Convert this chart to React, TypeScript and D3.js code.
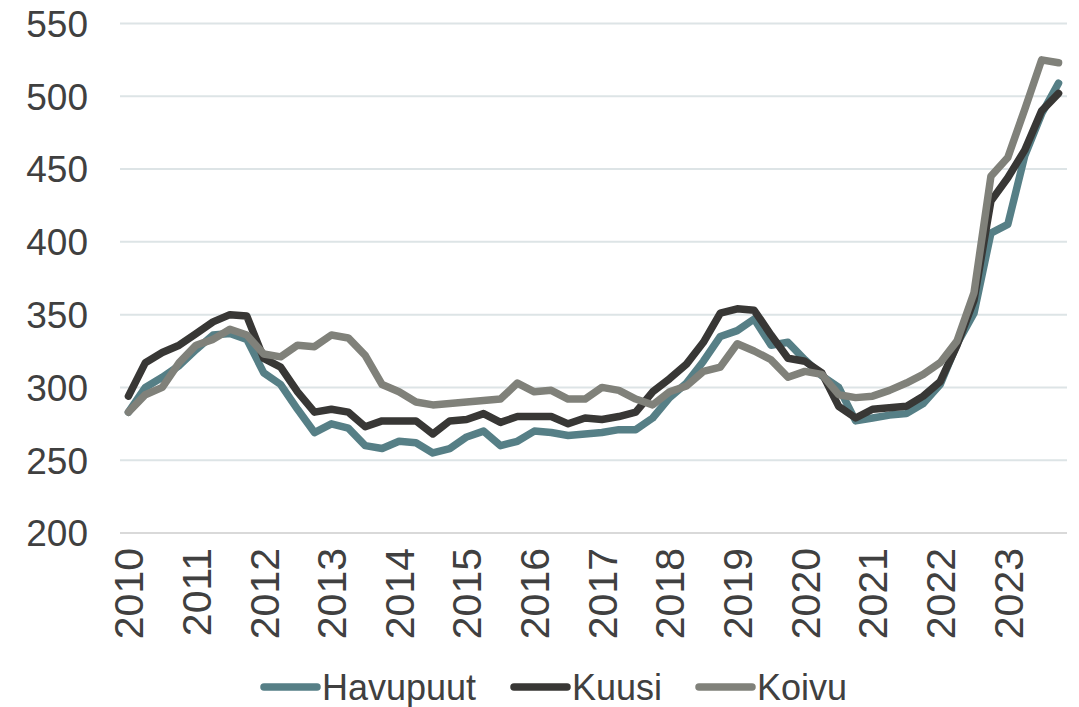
import { line, scaleLinear, scalePoint } from 'd3';

const width = 1079;
const height = 707;
const plot = { left: 120, right: 1067, top: 23.5, bottom: 533 };

const years = [2010, 2011, 2012, 2013, 2014, 2015, 2016, 2017, 2018, 2019, 2020, 2021, 2022, 2023];
const quarters = years.flatMap(y => [1, 2, 3, 4].map(q => `${y}Q${q}`));
const yTicks = [200, 250, 300, 350, 400, 450, 500, 550];

// quarterly price index
const havupuut = [
	283, 300, 307, 315, 326, 336, 337, 333, 310, 302, 285, 269, 275, 272,
	260, 258, 263, 262, 255, 258, 266, 270, 260, 263, 270, 269, 267, 268,
	269, 271, 271, 279, 293, 303, 318, 335, 339, 347, 329, 331, 319, 308,
	300, 277, 279, 281, 282, 289, 302, 330, 351, 406, 412, 459, 488, 509,
];
const kuusi = [
	294, 317, 324, 329, 337, 345, 350, 349, 320, 314, 297, 283, 285, 283,
	273, 277, 277, 277, 268, 277, 278, 282, 276, 280, 280, 280, 275, 279,
	278, 280, 283, 297, 306, 316, 331, 351, 354, 353, 336, 320, 318, 310,
	287, 279, 285, 286, 287, 294, 304, 329, 360, 428, 444, 463, 490, 502,
];
const koivu = [
	283, 295, 300, 317, 329, 333, 340, 336, 323, 321, 329, 328, 336, 334,
	322, 302, 297, 290, 288, 289, 290, 291, 292, 303, 297, 298, 292, 292,
	300, 298, 292, 288, 297, 301, 311, 314, 330, 325, 319, 307, 311, 309,
	295, 293, 294, 298, 303, 309, 317, 332, 365, 445, 458, 491, 525, 523,
];

const series = [
	{ name: 'Havupuut', values: havupuut, color: '#567f86' },
	{ name: 'Kuusi', values: kuusi, color: '#383735' },
	{ name: 'Koivu', values: koivu, color: '#80817a' },
];

const legendX = [264, 514, 699];
const textColor = '#404040';
const font = '"Liberation Sans", Arial, sans-serif';

const App = () => {
	const xScale = scalePoint<string>()
		.domain(quarters)
		.range([plot.left, plot.right])
		.padding(0.5);
	const yScale = scaleLinear().domain([200, 550]).range([plot.bottom, plot.top]);

	const path = line<number>()
		.x((_, i) => xScale(quarters[i]) as number)
		.y(d => yScale(d));

	return (
		<svg
			width={width}
			height={height}
			style={{ position: 'absolute', left: 0, top: 0, background: '#fff' }}
			fontFamily={font}
		>
			{yTicks.map(t => (
				<g key={t}>
					<line
						x1={plot.left}
						x2={plot.right}
						y1={yScale(t)}
						y2={yScale(t)}
						stroke={t === 200 ? '#d9d9d9' : '#dde4e6'}
						strokeWidth={2}
					/>
					<text
						x={88}
						y={yScale(t)}
						dy="0.36em"
						textAnchor="end"
						fontSize={37}
						fill={textColor}
					>
						{t}
					</text>
				</g>
			))}
			{years.map(y => {
				const x = xScale(`${y}Q1`) as number;
				return (
					<text
						key={y}
						transform={`translate(${x},548) rotate(-90)`}
						dy="0.36em"
						textAnchor="end"
						fontSize={41}
						fill={textColor}
					>
						{y}
					</text>
				);
			})}
			{series.map(s => (
				<path
					key={s.name}
					d={path(s.values) || ''}
					fill="none"
					stroke={s.color}
					strokeWidth={7.5}
					strokeLinejoin="round"
					strokeLinecap="round"
				/>
			))}
			{series.map((s, i) => (
				<g key={s.name} transform={`translate(${legendX[i]},687)`}>
					<line x1={0} x2={53} stroke={s.color} strokeWidth={7.5} strokeLinecap="round" />
					<text x={58} y={0} dy="0.36em" fontSize={36} fill={textColor}>
						{s.name}
					</text>
				</g>
			))}
		</svg>
	);
};

export default App;
